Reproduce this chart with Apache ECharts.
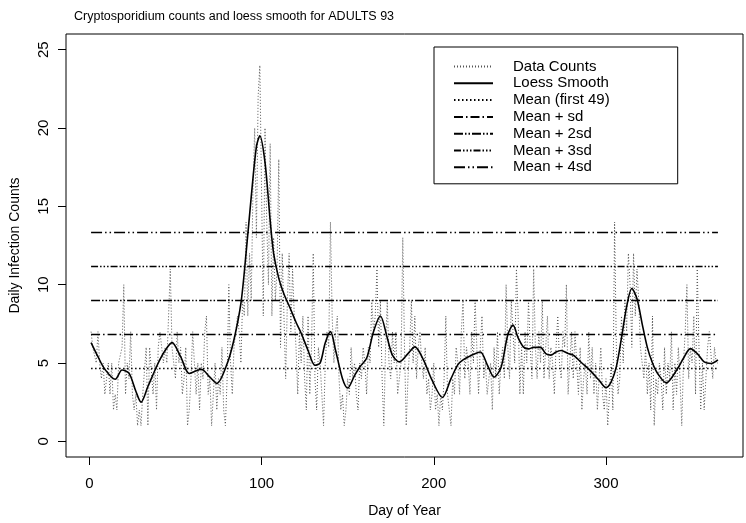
<!DOCTYPE html>
<html><head><meta charset="utf-8">
<script src="https://cdn.jsdelivr.net/npm/echarts@6/dist/echarts.min.js"></script>
<style>html,body{margin:0;padding:0;background:#fff}#c{width:746px;height:523px}</style>
</head><body><div id="c"></div>
<script>
// Daily counts, day 1..365
const counts = [
7,6,6,5,7,5,4,5,3,4,
5,3,5,2,3,2,5,5,6,10,
3,5,4,7,3,2,3,1,2,1,
3,3,6,1,6,6,3,5,2,6,
7,6,5,6,5,8,11,6,5,4,
7,5,6,3,4,6,1,2,4,7,
7,3,5,2,5,4,7,8,3,4,
1,3,5,2,4,3,6,2,1,4,
10,5,3,6,7,8,7,5,9,8,
14,8,12,9,16,20,13,22,24,16,
8,20,14,10,19,8,13,9,11,18,
6,12,8,4,9,12,7,11,8,6,
3,7,5,8,4,2,8,3,6,12,
4,2,6,5,3,1,5,7,6,14,
8,5,7,8,4,2,3,1,2,4,
3,6,4,5,3,2,5,4,6,5,
3,6,5,9,7,8,11,6,9,4,
1,6,9,5,4,7,5,7,3,4,
5,13,6,1,4,6,9,5,8,4,
6,7,5,4,6,3,4,2,3,5,
2,3,1,3,2,4,8,3,2,1,
4,3,6,5,3,7,9,4,6,5,
3,7,5,9,6,3,6,8,4,5,
3,4,5,2,6,4,7,3,5,6,
4,10,6,4,9,7,5,11,8,3,
6,3,7,5,9,6,4,11,6,4,
7,5,9,4,6,8,4,6,5,3,
6,8,5,4,7,6,10,3,5,7,
4,7,5,3,6,2,4,5,3,7,
4,6,3,5,2,4,6,3,2,4,
1,3,5,2,14,6,3,4,8,5,
9,7,12,10,6,12,8,11,9,6,
5,4,6,3,5,2,8,1,4,3,
5,4,2,6,3,5,4,7,2,5,
3,6,4,1,5,7,10,4,6,5,
8,3,11,6,2,5,2,4,6,7,
7,4,6,5,5
];
// Loess smooth read at selected days
const loessDays = [1,5,9,15,19,23,27,30,34,40,44,48,53,58,62,65,70,74,80,84,88,91,94,97,99,102,105,107,110,113,117,120,123,127,131,134,137,140,143,147,150,154,157,161,165,169,173,176,180,185,189,194,199,205,210,214,217,222,227,231,235,239,243,246,249,252,255,258,262,265,268,271,274,278,281,286,291,296,300,303,306,309,312,315,318,321,324,327,330,335,341,345,349,353,357,361,365];
const loessVals = [6.3,5.4,4.6,3.96,4.55,4.35,3.2,2.5,3.5,5.0,5.8,6.3,5.4,4.33,4.5,4.6,4.1,3.7,4.95,6.5,8.8,12,15.6,18.8,19.5,17.8,14.1,12,10.4,9.4,8.4,7.6,6.9,5.8,4.86,5.0,6.3,7.0,5.8,4.0,3.4,4.2,4.75,5.3,7.0,8.0,6.6,5.5,5.07,5.6,6.03,5.2,3.9,2.8,4.0,4.9,5.2,5.5,5.7,4.9,4.1,4.7,6.8,7.42,6.6,6.03,5.9,6.0,6.0,5.6,5.5,5.7,5.8,5.6,5.5,5.0,4.5,3.9,3.43,3.8,4.75,6.6,8.6,9.76,9.1,7.5,6.0,5.0,4.33,3.73,4.54,5.3,5.92,5.6,5.07,4.97,5.2];
const meanFirst49 = 4.65;
const sdFirst49 = 2.17;
const sdMultiples = [1,2,3,4];
const xTicks = [0,100,200,300];
const yTicks = [0,5,10,15,20,25];
const seriesNames = ['Data Counts','Loess Smooth','Mean (first 49)','Mean + sd','Mean + 2sd','Mean + 3sd','Mean + 4sd'];
const refDash = [[9,3,1.5,3],[9,2,1.5,2,1.5,2],[7,2,1.5,2,1.5,2,1.5,2],[11,3,1.5,3,1.5,3]];

const font = '"Liberation Sans", Arial, Helvetica, sans-serif';
const chart = echarts.init(document.getElementById('c'), null, {renderer:'canvas'});
const firstDay = 1, lastDay = counts.length;
const series = [
  {name:seriesNames[0], type:'line', symbol:'none', silent:true, z:1,
   data: counts.map((v,i)=>[i+1,v]),
   itemStyle:{color:'#555'},
   lineStyle:{color:'#555', width:1, type:[1,2]}},
  {name:seriesNames[1], type:'line', symbol:'none', silent:true, z:3, smooth:0.3,
   data: loessDays.map((d,i)=>[d,loessVals[i]]),
   itemStyle:{color:'#000'},
   lineStyle:{color:'#000', width:1.6, type:'solid'}},
  {name:seriesNames[2], type:'line', symbol:'none', silent:true, z:2,
   data: [[firstDay,meanFirst49],[lastDay,meanFirst49]],
   itemStyle:{color:'#000'},
   lineStyle:{color:'#000', width:1.3, type:[1.5,2.5]}}
];
sdMultiples.forEach((k,j)=>{
  const v = meanFirst49 + k*sdFirst49;
  series.push({name:seriesNames[3+j], type:'line', symbol:'none', silent:true, z:2,
    data:[[firstDay,v],[lastDay,v]],
    itemStyle:{color:'#000'},
    lineStyle:{color:'#000', width:1.3, type:refDash[j]}});
});

chart.setOption({
  animation:false,
  backgroundColor:'#fff',
  textStyle:{fontFamily:font},
  title:{text:'Cryptosporidium counts and loess smooth for ADULTS 93', left:69, top:5,
    textStyle:{fontSize:12.5, fontWeight:'normal', color:'#000', fontFamily:font}},
  grid:{left:65, right:3, top:34, bottom:66, show:true, borderColor:'#000', borderWidth:1, containLabel:false},
  legend:{data:seriesNames, orient:'vertical', left:434, top:47,
    padding:[12,68,9,19], itemWidth:39, itemHeight:14, itemGap:1.8,
    borderColor:'#000', borderWidth:1, backgroundColor:'#fff',
    itemStyle:{opacity:0},
    textStyle:{fontSize:15, color:'#000', fontFamily:font, padding:[0,0,0,15]}},
  xAxis:{type:'value', min:-13.56, max:379.56,
    name:'Day of Year', nameLocation:'middle', nameGap:47,
    nameTextStyle:{fontSize:14, color:'#000', fontFamily:font},
    axisLine:{show:false, onZero:false}, splitLine:{show:false},
    axisTick:{show:true, customValues:xTicks, length:8, lineStyle:{color:'#000'}},
    axisLabel:{customValues:xTicks, margin:19, fontSize:15, color:'#000', fontFamily:font}},
  yAxis:{type:'value', min:-1, max:26,
    name:'Daily Infection Counts', nameLocation:'middle', nameGap:44, nameRotate:90,
    nameTextStyle:{fontSize:14, color:'#000', fontFamily:font},
    axisLine:{show:false, onZero:false}, splitLine:{show:false},
    axisTick:{show:true, customValues:yTicks, length:8, lineStyle:{color:'#000'}},
    axisLabel:{customValues:yTicks, rotate:90, margin:15, fontSize:15, color:'#000', fontFamily:font}},
  series:series
});
</script>
</body></html>
